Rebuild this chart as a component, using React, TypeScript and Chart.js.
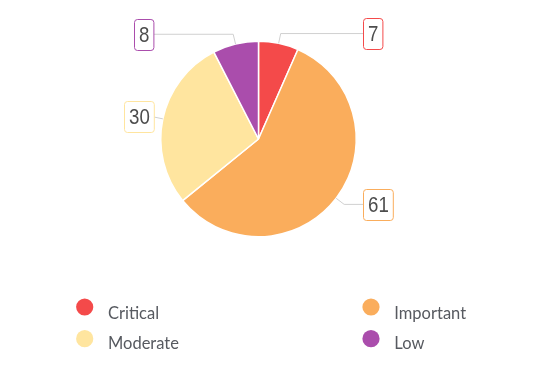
import React, { useEffect, useRef } from "react";
import { Chart, registerables } from "chart.js";
Chart.register(...registerables);

const categories = ["Critical", "Important", "Moderate", "Low"];
const values = [7, 61, 30, 8];
const colors = ["#F44A4A", "#FAAD5C", "#FFE59F", "#AA4DAC"];

const outLabels = {
  id: "outLabels",
  afterDraw(chart: any) {
    const ctx = chart.ctx;
    const meta = chart.getDatasetMeta(0);
    ctx.save();
    meta.data.forEach((arc: any, i: number) => {
      const { x, y, startAngle, endAngle, outerRadius } = arc.getProps(
        ["x", "y", "startAngle", "endAngle", "outerRadius"],
        true
      );
      const mid = (startAngle + endAngle) / 2;
      const c = Math.cos(mid), s = Math.sin(mid);
      const ex = x + outerRadius * c, ey = y + outerRadius * s;
      const px = x + (outerRadius + 10) * c, py = y + (outerRadius + 10) * s;
      const right = c >= 0;
      const edgeX = right ? x + outerRadius + 7 : x - outerRadius - 7;
      ctx.strokeStyle = "#d0d0d0";
      ctx.lineWidth = 1;
      ctx.beginPath();
      ctx.moveTo(ex, ey);
      ctx.lineTo(px, py);
      ctx.lineTo(edgeX, py);
      ctx.stroke();
      const txt = String(values[i]);
      const sx = 0.85;
      ctx.font = "22px 'Liberation Sans', Arial, sans-serif";
      const w = ctx.measureText(txt).width * sx;
      const bw = w + 9, bh = 31;
      const bx = Math.round(right ? edgeX : edgeX - bw) + 0.5;
      const by = Math.round(py - bh / 2) + 0.5;
      ctx.beginPath();
      ctx.roundRect(bx, by, bw, bh, 3);
      ctx.fillStyle = "#fff";
      ctx.fill();
      ctx.strokeStyle = colors[i];
      ctx.stroke();
      ctx.fillStyle = "#4d4d4d";
      ctx.textAlign = "center";
      ctx.textBaseline = "middle";
      ctx.save();
      ctx.translate(bx + bw / 2, by + bh / 2 + 1);
      ctx.scale(sx, 1);
      ctx.fillText(txt, 0, 0);
      ctx.restore();
    });
    // legend
    const cols = [84.7, 371];
    const dotRows = [307, 338.7];
    const baseRows = [319, 349.3];
    categories.forEach((name, i) => {
      const cx = cols[i % 2];
      const r = Math.floor(i / 2);
      ctx.beginPath();
      ctx.arc(cx, dotRows[r], 8.6, 0, Math.PI * 2);
      ctx.fillStyle = colors[i];
      ctx.fill();
      ctx.font = "16.5px Lato, sans-serif";
      ctx.fillStyle = "#575a60";
      ctx.textAlign = "left";
      ctx.textBaseline = "alphabetic";
      ctx.fillText(name, cx + 23.3, baseRows[r]);
    });
    ctx.restore();
  },
};

export default function App() {
  const ref = useRef<HTMLCanvasElement>(null);
  useEffect(() => {
    document.body.style.margin = "0";
    const chart = new Chart(ref.current!, {
      type: "pie",
      data: {
        labels: categories,
        datasets: [
          {
            data: values,
            backgroundColor: colors,
            borderColor: "#fff",
            borderWidth: 1.5,
          },
        ],
      },
      options: {
        responsive: false,
        animation: false,
        layout: { padding: { left: 160, right: 180, top: 40.5, bottom: 132.5 } },
        plugins: { legend: { display: false }, tooltip: { enabled: false } },
      },
      plugins: [outLabels],
    });
    return () => chart.destroy();
  }, []);
  return (
    <div style={{ width: 537, height: 370 }}>
      <canvas ref={ref} width={537} height={370} />
    </div>
  );
}
